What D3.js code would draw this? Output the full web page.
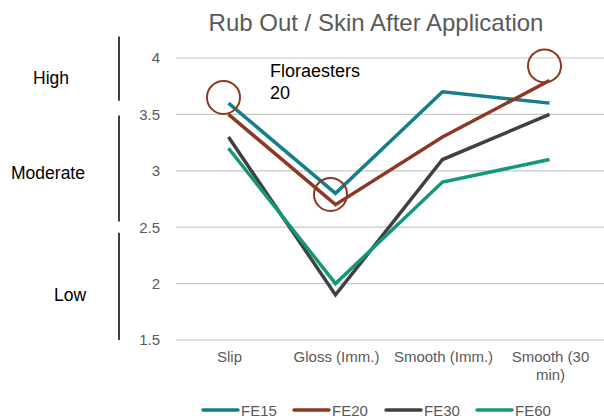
<!DOCTYPE html>
<html>
<head>
<meta charset="utf-8">
<script src="https://cdn.jsdelivr.net/npm/d3@7"></script>
<style>
  body { margin: 0; background: #fff; }
  text { font-family: "Liberation Sans", Arial, sans-serif; }
</style>
</head>
<body>
<div id="chart"></div>
<script>
const categories = ["Slip", "Gloss (Imm.)", "Smooth (Imm.)", "Smooth (30 min)"];
const seriesNames = ["FE15", "FE20", "FE30", "FE60"];
const fe15 = [3.6, 2.8, 3.7, 3.6];
const fe20 = [3.5, 2.7, 3.3, 3.8];
const fe30 = [3.3, 1.9, 3.1, 3.5];
const fe60 = [3.2, 2.0, 2.9, 3.1];
const yTicks = [1.5, 2, 2.5, 3, 3.5, 4];
// rating bands on the left
const bandNames = ["High", "Moderate", "Low"];
const bandRanges = [[3.62, 4.19], [2.55, 3.49], [1.5, 2.45]];
// circled points: [category index, value]
const highlights = [[0, 3.65], [1, 2.79], [3, 3.93]];

const colors = ["#137f8b", "#8c3823", "#404040", "#14977b"];
const seriesData = [fe15, fe20, fe30, fe60];

const width = 604, height = 419;
const margin = {top: 58, right: 0, bottom: 79, left: 176};
const font = '"Liberation Sans", Arial, sans-serif';

const svg = d3.select("#chart").append("svg")
  .attr("width", width).attr("height", height);

const x = d3.scaleBand().domain(categories)
  .range([margin.left, width - margin.right]);
const y = d3.scaleLinear().domain([1.5, 4])
  .range([height - margin.bottom, margin.top]);

svg.append("text")
  .attr("x", 376).attr("y", 31)
  .attr("text-anchor", "middle")
  .attr("font-size", 24)
  .attr("fill", "#595959")
  .text("Rub Out / Skin After Application");

// gridlines
svg.append("g").selectAll("line")
  .data(yTicks).join("line")
  .attr("x1", margin.left).attr("x2", width)
  .attr("y1", d => y(d)).attr("y2", d => y(d))
  .attr("stroke", "#c8c8c8").attr("stroke-width", 1.2);

const yAxis = svg.append("g")
  .attr("transform", `translate(${margin.left - 13},0)`)
  .call(d3.axisLeft(y).tickValues(yTicks).tickSize(0).tickFormat(d3.format("")));
yAxis.select(".domain").remove();
yAxis.selectAll("text")
  .attr("font-size", 15).attr("fill", "#595959")
  .style("font-family", font);

const xAxis = svg.append("g")
  .attr("transform", `translate(0,${height - margin.bottom})`)
  .call(d3.axisBottom(x).tickSize(0));
xAxis.select(".domain").remove();
xAxis.selectAll("text")
  .attr("font-size", 15).attr("fill", "#595959")
  .style("font-family", font)
  .attr("y", 11)
  .each(function(d) {
    if (d === "Smooth (30 min)") {
      const t = d3.select(this).text(null);
      t.append("tspan").attr("x", 0).attr("dy", "0.71em").text("Smooth (30");
      t.append("tspan").attr("x", 0).attr("dy", "1.2em").text("min)");
    }
  });

// rating bands
const bandG = svg.append("g");
bandG.selectAll("line")
  .data(bandRanges).join("line")
  .attr("x1", 119).attr("x2", 119)
  .attr("y1", d => y(d[1])).attr("y2", d => y(d[0]))
  .attr("stroke", "#000").attr("stroke-width", 1.5);
bandG.selectAll("text")
  .data(bandNames).join("text")
  .attr("x", (d, i) => [51, 48, 70][i])
  .attr("y", (d, i) => [84, 179, 301][i])
  .attr("text-anchor", "middle")
  .attr("font-size", 17.5).attr("fill", "#000")
  .text(d => d);

const cx = d => x(d) + x.bandwidth() / 2 - 1;
const line = d3.line()
  .x((d, i) => cx(categories[i]))
  .y(d => y(d));

svg.append("g").selectAll("path")
  .data(seriesData).join("path")
  .attr("d", d => line(d))
  .attr("fill", "none")
  .attr("stroke", (d, i) => colors[i])
  .attr("stroke-width", 3.5);

// circles
svg.append("g").selectAll("circle")
  .data(highlights).join("circle")
  .attr("cx", d => cx(categories[d[0]]) - 5)
  .attr("cy", d => y(d[1]))
  .attr("r", 16.5)
  .attr("fill", "none")
  .attr("stroke", "#8c3823").attr("stroke-width", 2);

const ann = svg.append("text")
  .attr("x", 270).attr("y", 77)
  .attr("font-size", 18).attr("fill", "#000");
ann.append("tspan").attr("x", 270).text("Floraesters");
ann.append("tspan").attr("x", 270).attr("dy", 22).text("20");

// legend
const legendX = [203, 294, 386, 477];
const legend = svg.append("g").selectAll("g")
  .data(seriesNames).join("g")
  .attr("transform", (d, i) => `translate(${legendX[i]},410)`);
legend.append("line")
  .attr("x1", 0).attr("x2", 35)
  .attr("stroke", (d, i) => colors[i])
  .attr("stroke-width", 3.5).attr("stroke-linecap", "round");
legend.append("text")
  .attr("x", 38).attr("y", 5.5)
  .attr("font-size", 15).attr("fill", "#595959")
  .text(d => d);
</script>
</body>
</html>
